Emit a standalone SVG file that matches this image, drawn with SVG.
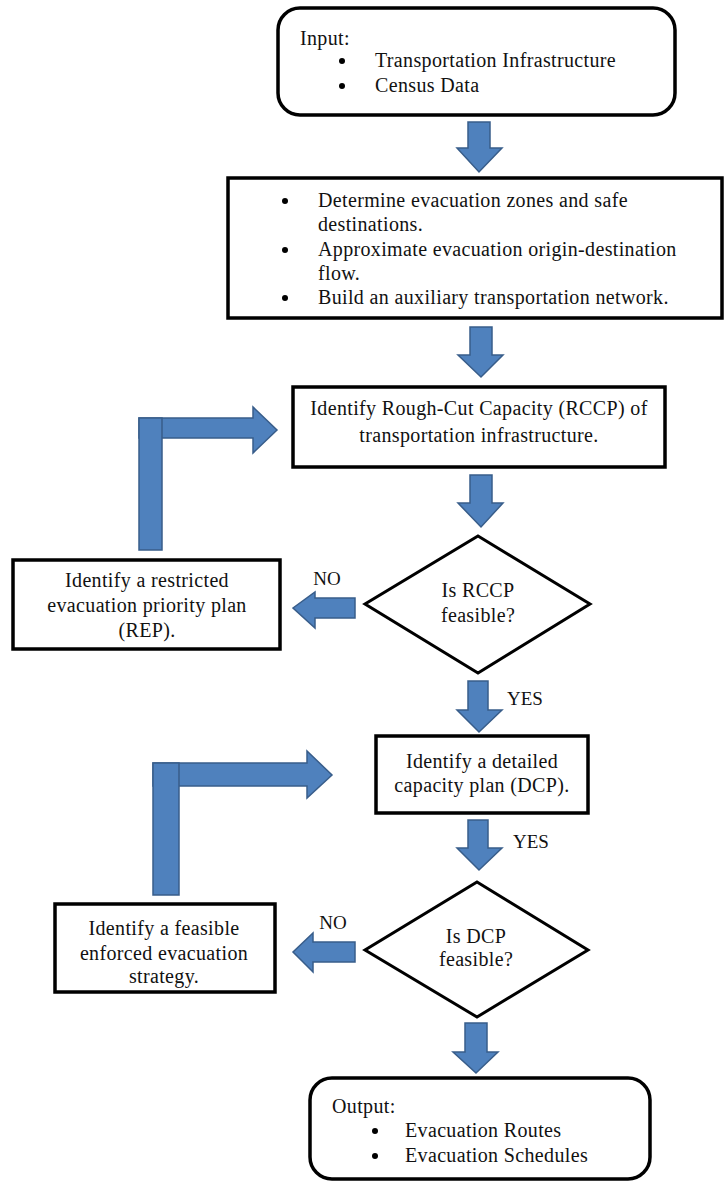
<svg xmlns="http://www.w3.org/2000/svg" width="727" height="1183" viewBox="0 0 727 1183">
  <style>
    .box { fill: #ffffff; stroke: #000000; stroke-width: 3.5; }
    .dia { fill: #ffffff; stroke: #000000; stroke-width: 3; stroke-linejoin: miter; }
    .arrow { fill: #4F81BD; stroke: #385D8A; stroke-width: 1.5; stroke-linejoin: miter; }
    text { font-family: "Liberation Serif", "Times New Roman", serif; font-size: 20px; fill: #111111; letter-spacing: 0.35px; }
    .c { text-anchor: middle; }
    .lbl { font-size: 19px; letter-spacing: 0; }
  </style>
  <rect width="727" height="1183" fill="#ffffff"/>

  <!-- connectors: block arrows -->
  <g id="connectors">
    <!-- straight down arrows -->
    <polygon class="arrow" points="468,122 490,122 490,148 502,148 479,172 457,148 468,148"/>
    <polygon class="arrow" points="470,327 492,327 492,355 503,355 481,377 458,355 470,355"/>
    <polygon class="arrow" points="470,475 492,475 492,503 503,503 481,527 458,503 470,503"/>
    <polygon class="arrow" points="468,681 488,681 488,710 502,710 479,732 457,710 468,710"/>
    <polygon class="arrow" points="468,820 488,820 488,848 502,848 479,870 457,848 468,848"/>
    <polygon class="arrow" points="465,1023 487,1023 487,1052 498,1052 476,1073 453,1052 465,1052"/>
    <!-- NO branches, pointing left -->
    <polygon class="arrow" points="355,598 355,618 315,618 315,628 293,608 315,592 315,598"/>
    <polygon class="arrow" points="355,942 355,962 313,962 313,972 293,952 313,933 313,942"/>
    <!-- return loop from REP back to RCCP -->
    <polygon class="arrow" points="139,418 253,418 253,407 277,430 253,453 253,438 139,438"/>
    <rect class="arrow" x="139" y="418" width="23" height="132"/>
    <!-- return loop from enforced strategy back to DCP -->
    <polygon class="arrow" points="153,763 307,763 307,751 332,775 307,798 307,786 153,786"/>
    <rect class="arrow" x="153" y="763" width="26" height="132"/>
    <!-- branch labels -->
    <text class="lbl c" x="327" y="585">NO</text>
    <text class="lbl" x="507" y="705">YES</text>
    <text class="lbl" x="513" y="848">YES</text>
    <text class="lbl c" x="333" y="929">NO</text>
  </g>

  <!-- input -->
  <g id="input">
    <rect class="box" x="278" y="8" width="397" height="107" rx="22" ry="22"/>
    <text x="300" y="45">Input:</text>
    <circle cx="342" cy="61" r="3"/>
    <text x="375" y="67">Transportation Infrastructure</text>
    <circle cx="342" cy="86" r="3"/>
    <text x="375" y="92">Census Data</text>
  </g>

  <!-- preparation steps -->
  <g id="prepare">
    <rect class="box" x="228" y="178" width="494" height="140"/>
    <circle cx="285" cy="201" r="3"/>
    <text x="318" y="207">Determine evacuation zones and safe</text>
    <text x="318" y="231">destinations.</text>
    <circle cx="285" cy="250" r="3"/>
    <text x="318" y="256">Approximate evacuation origin-destination</text>
    <text x="318" y="280">flow.</text>
    <circle cx="285" cy="298" r="3"/>
    <text x="318" y="304">Build an auxiliary transportation network.</text>
  </g>

  <!-- rough-cut capacity -->
  <g id="rccp">
    <rect class="box" x="293" y="387" width="372" height="80"/>
    <text class="c" x="479" y="415">Identify Rough-Cut Capacity (RCCP) of</text>
    <text class="c" x="479" y="442">transportation infrastructure.</text>
  </g>

  <!-- decision: RCCP -->
  <g id="rccp-feasible">
    <polygon class="dia" points="478,536 590,604 478,673 365,604"/>
    <text class="c" x="478" y="597">Is RCCP</text>
    <text class="c" x="478" y="622">feasible?</text>
  </g>

  <!-- restricted plan -->
  <g id="rep">
    <rect class="box" x="13" y="560" width="267" height="89"/>
    <text class="c" x="147" y="587">Identify a restricted</text>
    <text class="c" x="147" y="612">evacuation priority plan</text>
    <text class="c" x="147" y="637">(REP).</text>
  </g>

  <!-- detailed capacity plan -->
  <g id="dcp">
    <rect class="box" x="376" y="736" width="212" height="77"/>
    <text class="c" x="482" y="768">Identify a detailed</text>
    <text class="c" x="482" y="792">capacity plan (DCP).</text>
  </g>

  <!-- decision: DCP -->
  <g id="dcp-feasible">
    <polygon class="dia" points="477,882 588,950 477,1017 365,950"/>
    <text class="c" x="476" y="943">Is DCP</text>
    <text class="c" x="476" y="966">feasible?</text>
  </g>

  <!-- enforced strategy -->
  <g id="enforced">
    <rect class="box" x="55" y="904" width="220" height="88"/>
    <text class="c" x="164" y="935">Identify a feasible</text>
    <text class="c" x="164" y="960">enforced evacuation</text>
    <text class="c" x="164" y="983">strategy.</text>
  </g>

  <!-- output -->
  <g id="output">
    <rect class="box" x="310" y="1078" width="340" height="101" rx="22" ry="22"/>
    <text x="332" y="1113">Output:</text>
    <circle cx="375" cy="1131" r="3"/>
    <text x="405" y="1137">Evacuation Routes</text>
    <circle cx="375" cy="1156" r="3"/>
    <text x="405" y="1162">Evacuation Schedules</text>
  </g>
</svg>
